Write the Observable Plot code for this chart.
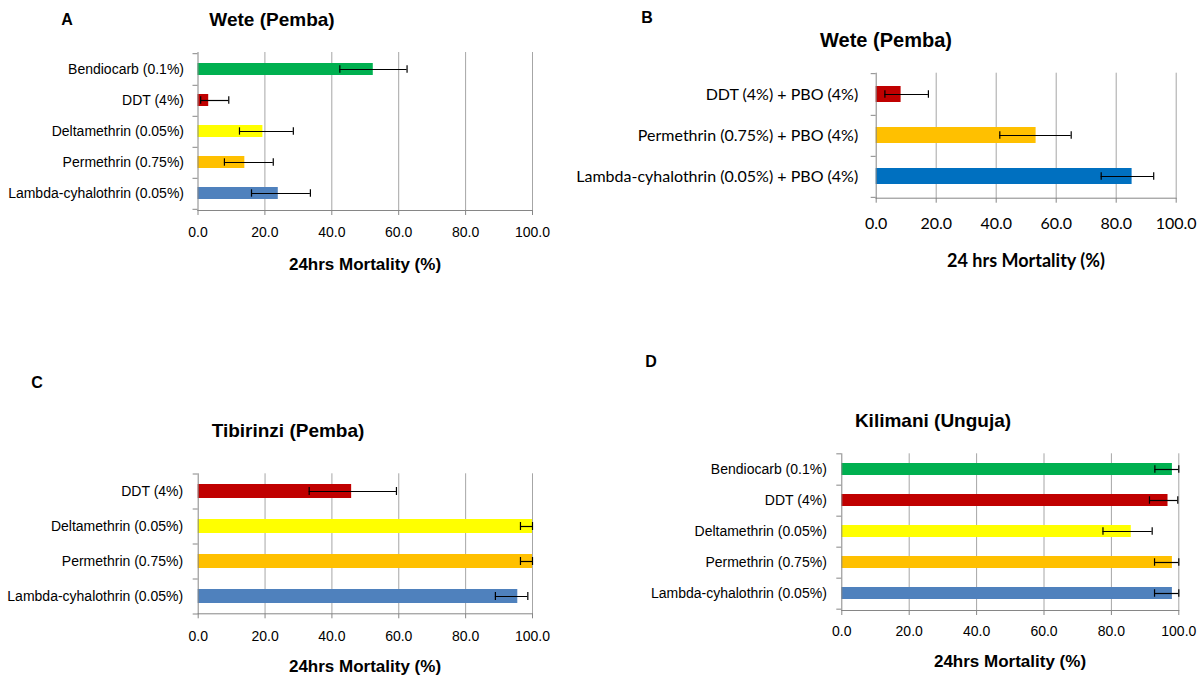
<!DOCTYPE html>
<html>
<head>
<meta charset="utf-8">
<script src="https://cdn.jsdelivr.net/npm/d3@7"></script>
<script src="https://cdn.jsdelivr.net/npm/@observablehq/plot@0.6"></script>
<style>
  body { margin: 0; background: #fff; }
  #wrap { position: relative; width: 1200px; height: 685px; background: #fff; overflow: hidden; }
  .panel { position: absolute; }
  .txt { position: absolute; transform: translate(-50%, -50%); white-space: nowrap; font-family: "Liberation Sans", Arial, sans-serif; font-weight: bold; color: #000; }
</style>
</head>
<body>
<div id="wrap"></div>
<script>
// ---------- DATA ----------
const xTicks = [0, 20, 40, 60, 80, 100];

// Panel A: Wete (Pemba)
const catsA = ["Bendiocarb (0.1%)", "DDT (4%)", "Deltamethrin (0.05%)", "Permethrin (0.75%)", "Lambda-cyhalothrin (0.05%)"];
const mortA = [52.4, 3.2, 19.4, 14.0, 24.0];
const loA   = [42.4, 0.8, 12.4, 7.9, 16.0];
const hiA   = [62.5, 9.2, 28.5, 22.5, 33.6];
const colA  = ["#00b050", "#c00000", "#ffff00", "#ffc000", "#4f81bd"];

// Panel B: Wete (Pemba) with PBO
const catsB = ["DDT (4%) + PBO (4%)", "Permethrin (0.75%) + PBO (4%)", "Lambda-cyhalothrin (0.05%) + PBO (4%)"];
const mortB = [8.3, 53.3, 85.3];
const loB   = [2.9, 41.2, 75.0];
const hiB   = [17.4, 65.0, 92.5];
const colB  = ["#c00000", "#ffc000", "#0070c0"];

// Panel C: Tibirinzi (Pemba)
const catsC = ["DDT (4%)", "Deltamethrin (0.05%)", "Permethrin (0.75%)", "Lambda-cyhalothrin (0.05%)"];
const mortC = [45.9, 100, 100, 95.6];
const loC   = [33.2, 96.4, 96.4, 88.9];
const hiC   = [59.3, 100, 100, 98.6];
const colC  = ["#c00000", "#ffff00", "#ffc000", "#4f81bd"];

// Panel D: Kilimani (Unguja)
const catsD = ["Bendiocarb (0.1%)", "DDT (4%)", "Deltamethrin (0.05%)", "Permethrin (0.75%)", "Lambda-cyhalothrin (0.05%)"];
const mortD = [98.1, 96.8, 85.9, 98.1, 98.1];
const loD   = [92.9, 91.3, 77.5, 92.8, 92.8];
const hiD   = [100, 99.7, 92.1, 100, 100];
const colD  = ["#00b050", "#c00000", "#ffff00", "#ffc000", "#4f81bd"];

// ---------- DRAW ----------
const wrap = document.getElementById("wrap");

function panel(cfg) {
  const rows = cfg.cats.map((c, i) => ({cat: c, v: cfg.mort[i], lo: cfg.lo[i], hi: cfg.hi[i], col: cfg.col[i]}));
  const plotW = cfg.width - cfg.ml - cfg.mr;
  const plotH = cfg.height - cfg.mt - cfg.mb;
  const step = plotH / cfg.cats.length;
  const tickUnits = 5 * 100 / plotW;
  const capInset = step * 0.4 / 2 - 4;
  const grid = "#a6a6a6", axis = "#868686";
  const chart = Plot.plot({
    width: cfg.width,
    height: cfg.height,
    marginLeft: cfg.ml, marginRight: cfg.mr, marginTop: cfg.mt, marginBottom: cfg.mb,
    style: {fontFamily: cfg.font, fontSize: cfg.fs + "px", color: "#000", background: "transparent", overflow: "visible"},
    x: {domain: [0, 100], label: null},
    y: {domain: cfg.cats, paddingInner: 0.6, paddingOuter: 0.3, label: null},
    color: {type: "identity"},
    marks: [
      Plot.ruleX(xTicks.filter(d => d > 0), {stroke: grid, strokeWidth: 1}),
      Plot.barX(rows, {y: "cat", x: "v", fill: "col"}),
      Plot.ruleY(rows, {y: "cat", x1: "lo", x2: "hi", stroke: "#000", strokeWidth: 1.2}),
      Plot.tickX(rows, {y: "cat", x: "lo", stroke: "#000", strokeWidth: 1.2, insetTop: capInset, insetBottom: capInset}),
      Plot.tickX(rows, {y: "cat", x: "hi", stroke: "#000", strokeWidth: 1.2, insetTop: capInset, insetBottom: capInset}),
      Plot.frame({anchor: "left", stroke: axis}),
      Plot.frame({anchor: "bottom", stroke: axis}),
      Plot.ruleY(rows, {y: "cat", x1: -tickUnits, x2: 0, dy: step / 2, stroke: axis}),
      Plot.ruleY(rows.slice(0, 1), {y: "cat", x1: -tickUnits, x2: 0, dy: -step / 2, stroke: axis}),
      Plot.axisX(xTicks, {tickSize: 5, tickPadding: cfg.tp, stroke: axis, tickFormat: d3.format(".1f"), label: null, fill: "#000"}),
      Plot.axisY({tickSize: 0, tickPadding: cfg.yp, label: null, fill: "#000"})
    ]
  });
  chart.classList.add("panel");
  chart.style.left = cfg.left + "px";
  chart.style.top = cfg.top + "px";
  wrap.appendChild(chart);
}

function label(text, x, y, size, family) {
  const d = document.createElement("div");
  d.className = "txt";
  d.textContent = text;
  d.style.left = x + "px";
  d.style.top = y + "px";
  d.style.fontSize = size + "px";
  if (family) d.style.fontFamily = family;
  wrap.appendChild(d);
}

const arial = "'Liberation Sans', Arial, sans-serif";
const calibri = "Lato, 'Open Sans', sans-serif";

panel({cats: catsA, mort: mortA, lo: loA, hi: hiA, col: colA, left: 0, top: 0, width: 580, height: 300,
       ml: 197.5, mr: 48, mt: 52, mb: 90, font: arial, fs: 14, tp: 12, yp: 14});
panel({cats: catsB, mort: mortB, lo: loB, hi: hiB, col: colB, left: 580, top: 0, width: 620, height: 300,
       ml: 295.7, mr: 24.3, mt: 72.7, mb: 102.3, font: calibri, fs: 16, tp: 14, yp: 18});
panel({cats: catsC, mort: mortC, lo: loC, hi: hiC, col: colC, left: 0, top: 340, width: 580, height: 345,
       ml: 197.7, mr: 48, mt: 133.3, mb: 71.7, font: arial, fs: 14, tp: 12.5, yp: 15});
panel({cats: catsD, mort: mortD, lo: loD, hi: hiD, col: colD, left: 580, top: 340, width: 620, height: 345,
       ml: 261.3, mr: 21.7, mt: 113.3, mb: 75, font: arial, fs: 14, tp: 10.5, yp: 15});

// panel letters
label("A", 67, 20, 16, arial);
label("B", 647, 18, 16, arial);
label("C", 37, 383, 16, arial);
label("D", 651, 362, 16, arial);
// titles
label("Wete (Pemba)", 272, 20, 19, arial);
label("Wete (Pemba)", 886, 40, 20, arial);
label("Tibirinzi (Pemba)", 288, 431, 19, arial);
label("Kilimani (Unguja)", 933, 421, 19, arial);
// axis titles
label("24hrs Mortality (%)", 365, 265, 17, arial);
label("24 hrs Mortality (%)", 1026, 260, 18, calibri);
label("24hrs Mortality (%)", 365, 667, 17, arial);
label("24hrs Mortality (%)", 1010, 662, 17, arial);
</script>
</body>
</html>
